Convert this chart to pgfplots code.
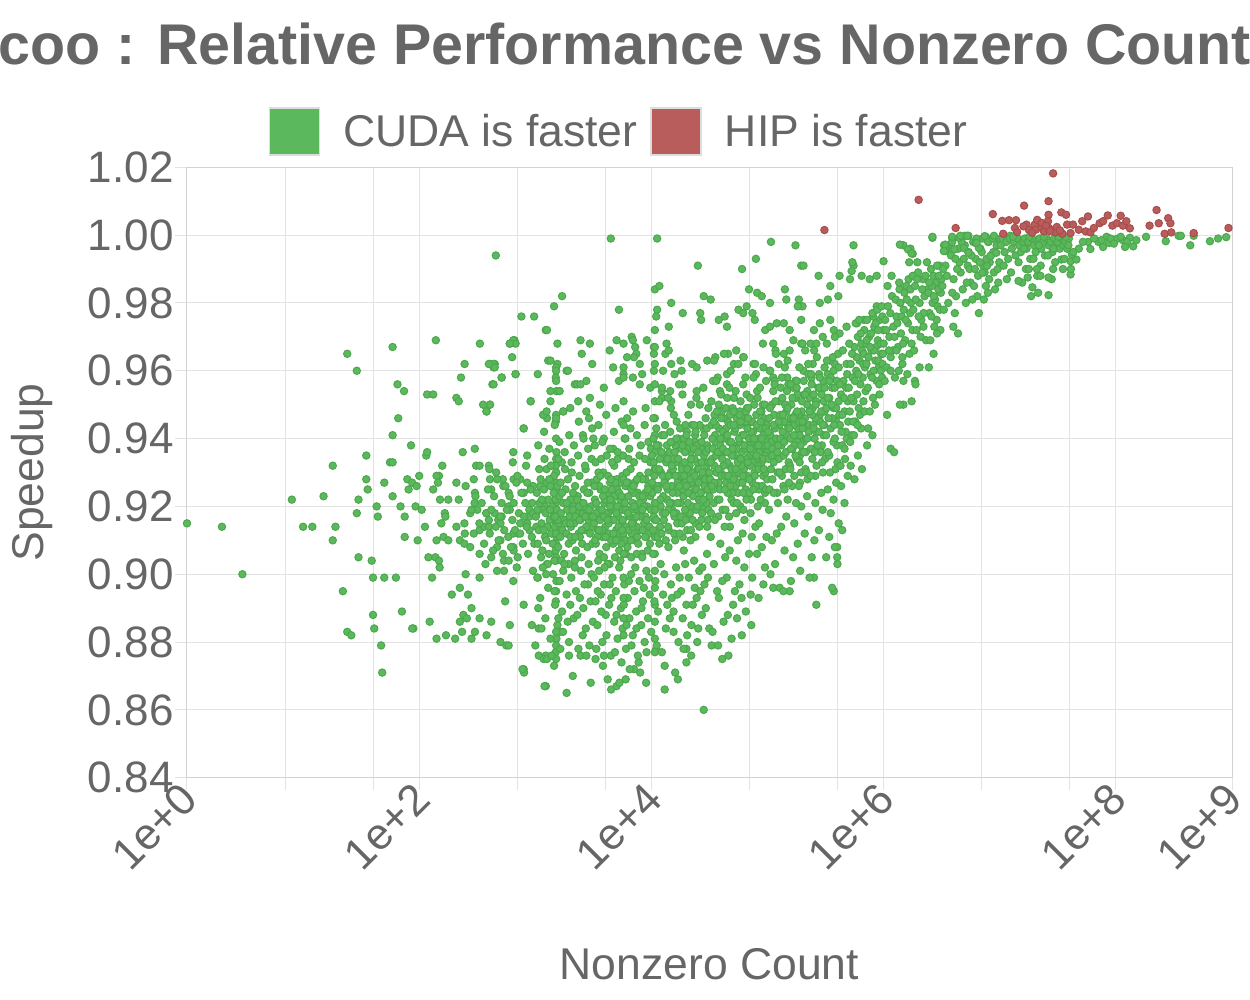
\documentclass[border=0pt]{standalone}
\usepackage{pgfplots}
\pgfplotsset{compat=1.18}
\usepackage{fontspec}
\setmainfont{Liberation Sans}
\definecolor{txt}{HTML}{666666}
\definecolor{cudagreen}{HTML}{5CB85C}
\definecolor{cudaedge}{HTML}{4CA84C}
\definecolor{hipred}{HTML}{B85C5C}
\definecolor{hipedge}{HTML}{A84C4C}
\definecolor{gridc}{HTML}{E3E3E3}
\definecolor{axisc}{HTML}{D2D2D2}
\definecolor{legbord}{HTML}{DDDDDD}
\begin{document}
\begin{tikzpicture}
\useasboundingbox (-93.5pt,-111.15pt) rectangle (531.5pt,388.85pt);
\begin{axis}[
  at={(0pt,0pt)}, anchor=south west,
  scale only axis, width=522.5pt, height=305.2pt,
  xmode=log, xmin=1, xmax=1e9, ymin=0.84, ymax=1.02,
  clip=false,
  xtick={1,100,10000,1000000,100000000,1000000000},
  xticklabels={1e+0,1e+2,1e+4,1e+6,1e+8,1e+9},
  minor xtick={7,40,700,4000,70000,400000,7000000,40000000},
  ytick={0.84,0.86,0.88,0.90,0.92,0.94,0.96,0.98,1.00,1.02},
  yticklabels={0.84,0.86,0.88,0.90,0.92,0.94,0.96,0.98,1.00,1.02},
  grid=both,
  major grid style={draw=gridc, line width=0.5pt},
  minor grid style={draw=gridc, line width=0.5pt},
  axis line style={draw=axisc, line width=0.5pt},
  xtick pos=left, ytick pos=left,
  tick align=outside,
  major tick length=6pt, minor tick length=6pt,
  every tick/.style={draw=gridc, line width=0.5pt},
  minor tick style={draw=gridc, line width=0.5pt},
  tick label style={font=\fontsize{22}{26}\selectfont, text=txt},
  yticklabel style={anchor=east, inner sep=0pt, xshift=-0.5pt},
  xticklabel style={rotate=45, anchor=east, inner sep=0pt, xshift=0.5pt, yshift=-1.5pt},
  xlabel={Nonzero Count},
  ylabel={Speedup},
  xlabel style={at={(axis description cs:0.5,-0.3314)}, anchor=base, inner sep=0pt, font=\fontsize{22.25}{26}\selectfont, text=txt},
  ylabel style={at={(axis description cs:-0.1371,0.5)}, anchor=base, inner sep=0pt, font=\fontsize{22.25}{26}\selectfont, text=txt},
  title={coo : Relative Performance vs Nonzero Count},
  title style={at={(axis description cs:0.4191,1.1651)}, anchor=base, yshift=-5pt, inner sep=0pt, font=\bfseries\fontsize{28.7}{34}\selectfont, text=txt},
  legend columns=2,
  legend cell align=left,
  legend style={at={(axis description cs:0.4124,1.0587)}, anchor=center, draw=none, fill=none,
    inner sep=0pt, outer sep=0pt, font=\fontsize{22.25}{26}\selectfont, text=txt,
    nodes={inner sep=0pt},
    /tikz/every odd column/.append style={column sep=11.5pt},
    /tikz/every even column/.append style={column sep=6.5pt}},
]
\addplot[only marks, mark=*, mark size=1.85pt, mark options={fill=cudagreen, draw=cudaedge, line width=0.5pt},
  legend image code/.code={\draw[fill=cudagreen, draw=legbord, line width=0.75pt] (0pt,-11.75pt) rectangle (25pt,11.75pt);}]
coordinates {
(1,0.915)(2,0.914)(3,0.900)(8,0.922)(10,0.914)(12,0.914)(15,0.923)(18,0.932)(18,0.910)(19,0.914)(22,0.895)(24,0.883)(26,0.882)(24,0.965)(29,0.960)
(30,0.905)(30,0.922)(29,0.918)(35,0.935)(35,0.928)(36,0.925)(39,0.904)(40,0.899)(50,0.899)(63,0.899)(40,0.888)(41,0.884)(47,0.879)(48,0.871)(43,0.920)(44,0.917)(50,0.927)(59,0.923)(69,0.920)(75,0.917)(75,0.911)(97,0.910)(112,0.914)(71,0.889)(89,0.884)(56,0.933)(59,0.933)(59,0.941)(66,0.946)(65,0.956)(74,0.954)(59,0.967)(139,0.969)(85,0.938)(79,0.928)(87,0.927)(95,0.926)(81,0.925)(100,0.929)(93,0.920)(105,0.919)(115,0.935)(117,0.936)(117,0.953)(132,0.953)
(209,0.952)(219,0.951)(229,0.958)(246,0.962)(333,0.968)(380,0.948)(407,0.950)(427,0.956)(407,0.962)(447,0.962)(437,0.961)(513,0.958)(603,0.968)(661,0.969)(631,0.964)(676,0.959)(912,0.951)(1050,0.959)(794,0.943)(1230,0.972)(1550,0.968)(1290,0.963)(1550,0.962)
(237,0.936)(301,0.937)(646,0.936)(640,0.933)(851,0.935)(832,0.932)(309,0.932)(331,0.932)(398,0.932)(402,0.931)(158,0.932)(148,0.929)(141,0.929)
(209,0.927)(251,0.926)(295,0.928)(302,0.924)(305,0.923)(300,0.921)(316,0.919)(407,0.928)(417,0.925)(525,0.928)(589,0.924)(530,0.926)
(650,0.928)(741,0.928)(794,0.924)(955,0.926)(1100,0.926)(1260,0.927)(1380,0.932)(1510,0.930)(132,0.925)(145,0.927)(151,0.922)
(178,0.922)(219,0.922)(166,0.918)(168,0.917)(155,0.915)(141,0.910)(162,0.911)(178,0.910)
(209,0.914)(245,0.915)(247,0.912)(295,0.912)(331,0.913)(363,0.914)(398,0.914)
(275,0.918)(282,0.919)(380,0.918)(447,0.918)(513,0.917)(589,0.920)(603,0.919)
(398,0.916)(479,0.916)(501,0.915)(741,0.915)(851,0.915)(891,0.917)(1020,0.918)(1200,0.920)
(646,0.912)(708,0.912)(891,0.913)(1020,0.914)(1260,0.914)
(224,0.910)(245,0.909)(275,0.908)(331,0.906)(417,0.905)(468,0.908)(501,0.910)
(646,0.908)(650,0.907)(692,0.902)(537,0.904)(468,0.901)(537,0.901)
(120,0.905)(138,0.905)(148,0.904)(150,0.902)(129,0.899)(251,0.900)(331,0.899)
(224,0.896)(191,0.894)(263,0.894)(282,0.890)(550,0.892)(603,0.885)(794,0.891)(646,0.898)
(955,0.901)(1050,0.899)(1260,0.903)(1510,0.905)(1740,0.901)
(240,0.888)(257,0.887)(224,0.886)(331,0.887)(417,0.886)(123,0.886)(87,0.884)
(141,0.881)(170,0.882)(204,0.881)(234,0.883)(282,0.881)(302,0.883)(380,0.882)(501,0.880)(562,0.879)(589,0.879)
(794,0.872)(800,0.871)(1000,0.879)(933,0.885)(1070,0.884)(1070,0.876)(1230,0.876)(1230,0.867)(1860,0.865)(1950,0.876)(1580,0.887)(1620,0.883)
(1510,0.961)(1500,0.958)(1520,0.954)(1510,0.947)(1500,0.945)(1510,0.940)(1520,0.936)(1510,0.934)(1500,0.932)(1510,0.930)(1520,0.927)(1510,0.925)(1500,0.923)(1510,0.921)(1520,0.919)(1510,0.917)(1500,0.915)(1510,0.913)(1520,0.911)(1510,0.909)(1500,0.907)(1510,0.904)(1520,0.898)(1510,0.895)(1500,0.892)(1510,0.883)(1520,0.881)(1510,0.879)(1500,0.877)(1510,0.875)
(1860,0.960)(2190,0.956)(2340,0.951)(1740,0.948)(1350,0.951)(1200,0.947)
(457,0.994)(4470,0.999)(11200,0.999)(1700,0.982)(1450,0.979)(759,0.976)(977,0.976)(1260,0.972)(5250,0.978)(10700,0.984)(11700,0.985)(14800,0.980)(18600,0.977)(11200,0.978)(11000,0.976)(14100,0.973)(25100,0.991)(28200,0.982)(32400,0.981)(26300,0.977)(26800,0.975)(38000,0.975)(42700,0.976)(44700,0.973)(60300,0.990)(79400,0.993)(1.07e5,0.998)(1.74e5,0.997)(1.95e5,0.991)(2.04e5,0.991)(2.75e5,0.988)(3.47e5,0.985)(4.17e5,0.988)(5.13e5,0.987)(5.5e5,0.997)(5.5e5,0.991)(6.46e5,0.988)(7.59e5,0.987)(8.71e5,0.988)
(6.92e4,0.984)(8.13e4,0.983)(8.91e4,0.982)(1.05e5,0.980)(1.41e5,0.984)(1.45e5,0.981)(1.86e5,0.981)(2.0e5,0.979)(2.82e5,0.980)(3.31e5,0.981)(4.07e5,0.982)
(5.62e4,0.978)(6.61e4,0.979)(6.17e4,0.977)(7.41e4,0.977)(7.76e4,0.975)
(9.55e4,0.972)(1.05e5,0.973)(1.2e5,0.974)(1.38e5,0.974)(1.55e5,0.972)(1.95e5,0.975)(1.82e5,0.979)
(2.51e5,0.972)(2.82e5,0.974)(3.47e5,0.975)(3.72e5,0.972)(4.17e5,0.971)(4.79e5,0.973)(5.89e5,0.974)(6.76e5,0.975)(8.13e5,0.976)(8.71e5,0.979)
(9.12e4,0.968)(1.17e5,0.966)(1.38e5,0.965)(1.55e5,0.966)(1.95e5,0.968)(2.34e5,0.968)(2.63e5,0.968)(3.24e5,0.968)(3.8e5,0.970)
(17800,0.963)(18200,0.960)(22400,0.962)(24500,0.961)(30200,0.963)(35500,0.964)(37200,0.958)(44700,0.959)(51300,0.962)(45700,0.965)(53700,0.966)(61700,0.964)(75900,0.962)(79400,0.959)(1.05e5,0.960)(1.12e5,0.958)(1.48e5,0.958)(1.74e5,0.957)(2.04e5,0.960)(2.24e5,0.959)
(6760,0.970)(6920,0.969)(5010,0.969)(5750,0.968)(7240,0.967)(9120,0.969)(10500,0.967)(13500,0.968)(10500,0.965)(7410,0.965)(13200,0.965)(14100,0.966)
(4370,0.966)(6170,0.964)(7080,0.964)(4680,0.961)(5750,0.961)(7940,0.962)(10500,0.960)(8320,0.959)(12600,0.960)(14800,0.962)(15800,0.959)
(2450,0.969)(2950,0.968)(2510,0.965)(3090,0.962)(2290,0.956)(2450,0.956)(2750,0.957)
(1350,0.963)(1510,0.960)(1510,0.957)(1910,0.960)(1350,0.954)(1620,0.954)(1740,0.948)(1260,0.946)(1170,0.947)(1510,0.946)
(646,0.969)(676,0.968)(603,0.968)(437,0.962)(447,0.961)(398,0.962)(513,0.958)(676,0.959)(437,0.956)(380,0.948)(407,0.950)(355,0.950)
(912,0.951)(1170,0.947)(794,0.943)
(2950,0.952)(3890,0.955)(5250,0.957)(5750,0.959)(6920,0.958)(7940,0.956)(9770,0.955)(12300,0.954)(12300,0.952)(14500,0.954)(14800,0.951)
(18600,0.956)(24500,0.954)(33900,0.957)(38900,0.954)(44700,0.956)(51300,0.952)(61700,0.956)(66100,0.953)(81300,0.954)
(2570,0.941)(3160,0.940)(2750,0.948)(3890,0.940)(4680,0.937)(6170,0.946)(5890,0.940)
(1200,0.867)(776,0.872)(5010,0.867)(28200,0.860)(40700,0.875)(20000,0.878)(72400,0.885)(2.63e5,0.891)(3.72e5,0.895)(1.55e5,0.895)(1.12e5,0.896)(2.51e5,0.899)(3.98e5,0.908)(3.98e5,0.905)
(1180,0.875)(1260,0.875)(2450,0.876)(2750,0.876)(3300,0.875)(3900,0.876)(7080,0.872)(7760,0.874)(11000,0.878)(15500,0.883)(1450,0.873)(2100,0.870)(3000,0.868)(4500,0.866)(6000,0.869)(9000,0.868)(13000,0.866)(16000,0.871)(20000,0.874)(33000,0.879)(46000,0.876)(60000,0.882)
(330,0.915)(345,0.921)(362,0.909)(378,0.918)(391,0.925)(405,0.912)(418,0.919)(433,0.907)(441,0.923)(456,0.914)(470,0.928)(482,0.910)(497,0.917)(512,0.921)(526,0.906)(540,0.913)(553,0.926)(568,0.919)(585,0.911)(601,0.923)(617,0.908)(634,0.916)(650,0.921)(668,0.913)(686,0.927)(705,0.905)(722,0.918)(740,0.912)(760,0.924)(781,0.909)(800,0.917)(821,0.921)(843,0.914)(866,0.906)(888,0.919)(910,0.925)(933,0.911)(957,0.918)(980,0.909)(372,0.903)(460,0.930)(590,0.904)(700,0.929)(850,0.927)(940,0.921)
(1010,0.917)(1030,0.924)(1050,0.909)(1070,0.913)(1090,0.921)(1110,0.928)(1130,0.915)(1150,0.907)(1170,0.919)(1190,0.925)
(1210,0.911)(1230,0.918)(1250,0.931)(1270,0.914)(1290,0.922)(1310,0.906)(1330,0.916)(1350,0.926)(1370,0.912)(1390,0.920)
(1410,0.909)(1430,0.917)(1450,0.929)(1470,0.914)(1490,0.922)(1510,0.912)(1530,0.919)(1550,0.926)(1570,0.908)(1590,0.915)
(1610,0.923)(1640,0.911)(1660,0.918)(1690,0.933)(1710,0.913)(1740,0.921)(1770,0.906)(1790,0.916)(1820,0.925)(1850,0.912)
(1880,0.919)(1910,0.928)(1940,0.909)(1970,0.917)(2000,0.922)(2030,0.914)(2060,0.930)(2090,0.910)(2130,0.920)(2160,0.915)
(2200,0.926)(2240,0.907)(2280,0.918)(2320,0.923)(2360,0.912)(2400,0.929)(2440,0.916)(2480,0.921)(2530,0.909)(2570,0.918)
(2620,0.925)(2660,0.913)(2710,0.931)(2760,0.919)(2810,0.908)(2860,0.916)(2910,0.924)(2960,0.912)(3010,0.920)(3070,0.927)
(3120,0.914)(1080,0.931)(1120,0.905)(1200,0.934)(1280,0.903)(1360,0.932)(1460,0.904)(1580,0.934)(1680,0.904)(1800,0.931)
(1930,0.903)(2050,0.933)(2190,0.904)(2340,0.935)(2500,0.905)(2680,0.932)(2880,0.903)(3050,0.934)(1040,0.919)(1140,0.922)
(1240,0.910)(1340,0.919)(1440,0.924)(1560,0.916)(1700,0.924)(1860,0.921)(2020,0.911)(2220,0.917)(2420,0.911)(2640,0.920)
(2830,0.927)(3100,0.909)(1180,0.913)(1320,0.928)(1480,0.917)(1650,0.927)(1830,0.915)(2110,0.924)(2380,0.920)(2740,0.914)(3000,0.917)
(1040,0.899)(1100,0.893)(1160,0.902)(1220,0.887)(1290,0.896)(1350,0.881)(1420,0.900)(1480,0.891)(1550,0.885)(1620,0.898)
(1700,0.889)(1780,0.903)(1860,0.894)(1950,0.880)(2040,0.899)(2140,0.887)(2240,0.895)(2350,0.878)(2470,0.901)(2590,0.890)
(2720,0.884)(2850,0.897)(2990,0.892)(3130,0.886)(1130,0.884)(1380,0.876)(1640,0.878)(1900,0.886)(2190,0.902)(2420,0.893)
(2650,0.897)(2920,0.879)(1060,0.890)(1240,0.900)(1460,0.895)(1730,0.883)(2000,0.891)(2300,0.888)(2560,0.882)(3050,0.900)
(1060,0.938)(1190,0.942)(1320,0.937)(1470,0.944)(1610,0.939)(1790,0.936)(1960,0.941)(2150,0.938)(2370,0.945)(2600,0.940)(2850,0.937)(3080,0.943)(1250,0.948)(2000,0.949)(2900,0.946)
(3200,0.915)(3260,0.922)(3320,0.909)(3390,0.928)(3450,0.913)(3510,0.919)(3580,0.906)(3640,0.925)(3710,0.917)(3780,0.911)
(3850,0.930)(3920,0.921)(4000,0.914)(4080,0.908)(4160,0.924)(4240,0.918)(4320,0.912)(4410,0.927)(4500,0.916)(4590,0.921)
(4680,0.909)(4780,0.932)(4870,0.919)(4970,0.913)(5070,0.925)(5170,0.917)(5280,0.907)(5390,0.922)(5500,0.915)(5610,0.929)
(5730,0.911)(5850,0.920)(5970,0.926)(6090,0.914)(6220,0.908)(6350,0.923)(6480,0.917)(6610,0.931)(6750,0.912)(6890,0.921)
(7030,0.916)(7180,0.927)(7330,0.910)(7480,0.919)(7640,0.924)(7800,0.913)(7960,0.929)(8130,0.918)(8300,0.906)(8470,0.922)
(8650,0.915)(8830,0.928)(9010,0.911)(9200,0.920)(9390,0.926)(9590,0.914)(9790,0.923)(3300,0.933)(3480,0.904)(3690,0.934)
(3900,0.905)(4120,0.935)(4350,0.903)(4590,0.933)(4850,0.905)(5120,0.934)(5400,0.904)(5700,0.935)(6020,0.906)(6350,0.934)
(6700,0.905)(7080,0.933)(7470,0.906)(7890,0.935)(8330,0.905)(8800,0.934)(9290,0.907)(9810,0.933)(3350,0.918)(3560,0.926)
(3770,0.913)(4000,0.922)(4230,0.929)(4480,0.910)(4740,0.916)(5020,0.928)(5310,0.912)(5620,0.919)(5950,0.910)(6300,0.927)
(6670,0.919)(7060,0.924)(7470,0.914)(7910,0.921)(8370,0.928)(8860,0.917)(9380,0.912)(9930,0.919)(3230,0.926)(3610,0.916)
(4060,0.918)(4540,0.925)(5080,0.920)(5680,0.916)(6350,0.913)(7100,0.920)(7940,0.917)(8880,0.924)(3420,0.911)(3830,0.923)
(4290,0.915)(4800,0.923)(5370,0.927)(6010,0.919)(6720,0.925)(7520,0.928)(8410,0.913)(9410,0.930)(3500,0.930)(4400,0.920)
(5500,0.909)(6900,0.914)(8600,0.920)(9700,0.909)(3900,0.917)(4900,0.927)(6100,0.930)(7700,0.909)(9100,0.916)(5200,0.914)
(3250,0.938)(3500,0.944)(3780,0.939)(4080,0.947)(4400,0.937)(4750,0.942)(5120,0.936)(5530,0.945)(5970,0.940)(6440,0.937)
(6950,0.948)(7500,0.941)(8100,0.938)(8740,0.944)(9430,0.939)(3600,0.950)(4900,0.949)(6600,0.943)(8900,0.949)(9900,0.937)
(3200,0.899)(3300,0.892)(3420,0.885)(3540,0.901)(3660,0.894)(3780,0.880)(3910,0.897)(4040,0.888)(4180,0.903)(4320,0.891)
(4470,0.876)(4620,0.899)(4780,0.886)(4940,0.895)(5110,0.881)(5280,0.902)(5460,0.890)(5650,0.884)(5840,0.897)(6040,0.878)
(6250,0.893)(6460,0.887)(6680,0.900)(6910,0.882)(7150,0.895)(7390,0.889)(7640,0.876)(7900,0.898)(8170,0.885)(8450,0.892)
(8740,0.880)(9040,0.901)(9350,0.887)(9670,0.894)(9950,0.883)(3350,0.878)(3700,0.889)(4100,0.882)(4520,0.893)(5000,0.888)
(5520,0.874)(6100,0.885)(6730,0.879)(7430,0.884)(8210,0.890)(9070,0.877)(3450,0.895)(3950,0.902)(4380,0.897)(5780,0.891)
(6400,0.898)(7260,0.902)(8600,0.896)(9500,0.899)(3820,0.873)(4850,0.877)(6500,0.872)(8000,0.871)(5300,0.868)(4200,0.869)
(5750,0.944)(5750,0.951)(5750,0.958)(5750,0.899)(5750,0.893)(5750,0.887)(5750,0.882)(5770,0.906)(5730,0.912)(5760,0.928)
(10700,0.972)(10700,0.967)(10700,0.962)(10700,0.956)(10700,0.951)(10700,0.946)(10700,0.941)(10700,0.936)(10700,0.931)(10700,0.926)(10700,0.921)(10700,0.916)(10700,0.911)(10700,0.906)(10700,0.901)(10700,0.896)(10700,0.891)(10700,0.886)(10700,0.881)(10700,0.877)
(10200,0.924)(10500,0.917)(10900,0.931)(11200,0.913)(11600,0.926)(12000,0.920)(12400,0.935)(12800,0.916)(13200,0.928)(13700,0.922)
(14100,0.913)(14600,0.930)(15100,0.919)(15600,0.925)(16100,0.938)(16700,0.915)(17200,0.927)(17800,0.921)(18400,0.932)(19000,0.917)
(19700,0.924)(20300,0.913)(21000,0.929)(21700,0.936)(22400,0.920)(23200,0.926)(24000,0.915)(24800,0.933)(25600,0.922)(26500,0.928)
(27400,0.918)(28300,0.935)(29200,0.925)(30200,0.914)(31200,0.930)(10400,0.940)(11300,0.911)(12300,0.941)(13300,0.910)(14500,0.942)
(15700,0.912)(17100,0.940)(18600,0.911)(20200,0.942)(21900,0.913)(23800,0.941)(25900,0.914)(28100,0.943)(30500,0.916)(10800,0.921)
(11800,0.934)(12900,0.927)(14000,0.919)(15300,0.931)(16600,0.924)(18100,0.937)(19700,0.928)(21500,0.918)(23400,0.934)(25500,0.927)
(27800,0.920)(30300,0.938)(11000,0.916)(12600,0.923)(14300,0.936)(16400,0.918)(18700,0.925)(21300,0.932)(24300,0.919)(27700,0.929)
(31600,0.923)(10600,0.929)(11900,0.914)(13400,0.933)(15000,0.921)(16900,0.929)(19000,0.940)(21300,0.924)(23900,0.911)(26800,0.937)
(30100,0.927)(12100,0.930)(13800,0.925)(15800,0.917)(18000,0.929)(20600,0.921)(23500,0.939)(26900,0.916)(11500,0.938)(13900,0.914)
(16300,0.933)(19500,0.919)(22800,0.930)(26200,0.921)(29700,0.932)(10300,0.913)(12500,0.918)(15200,0.939)(18300,0.915)(22100,0.927)
(26700,0.924)(31000,0.919)(11100,0.926)(13600,0.938)(16800,0.927)(20800,0.937)(25100,0.931)(29900,0.921)(12200,0.912)(17500,0.912)
(24600,0.938)(14800,0.926)(22600,0.916)(28700,0.926)(19300,0.933)(15500,0.934)(27100,0.933)(10100,0.935)(20000,0.926)(30800,0.933)
(10150,0.927)(10450,0.933)(10750,0.919)(11050,0.938)(11350,0.925)(11650,0.931)(11950,0.922)(12250,0.936)(12550,0.929)(12850,0.941)
(13150,0.918)(13450,0.926)(13750,0.934)(14050,0.929)(14350,0.921)(14650,0.939)(14950,0.932)(15250,0.924)(15550,0.918)(15850,0.936)
(16150,0.929)(16450,0.940)(16750,0.921)(17050,0.934)(17350,0.926)(17650,0.943)(17950,0.917)(18250,0.931)(18550,0.938)(18850,0.923)
(19150,0.929)(19450,0.936)(19750,0.916)(20050,0.941)(20400,0.931)(20800,0.924)(21200,0.939)(21600,0.928)(22000,0.934)(22400,0.944)
(22800,0.923)(23200,0.937)(23600,0.929)(24000,0.942)(24400,0.925)(24800,0.920)(25200,0.936)(25600,0.931)(26000,0.944)(26500,0.924)
(27000,0.939)(27500,0.930)(28000,0.922)(28500,0.941)(29000,0.928)(29500,0.936)(30000,0.943)(30500,0.925)(31000,0.937)(31500,0.930)
(10400,0.946)(11700,0.951)(13100,0.944)(14700,0.949)(16500,0.945)(18500,0.953)(20800,0.947)(23300,0.944)(26100,0.950)(29300,0.946)
(12300,0.955)(17300,0.956)(24400,0.952)(11000,0.943)(15600,0.947)(21900,0.950)(28000,0.955)(13900,0.952)(19600,0.944)(30900,0.949)
(10300,0.906)(10800,0.898)(11400,0.889)(12000,0.903)(12600,0.894)(13300,0.884)(14000,0.908)(14700,0.897)(15500,0.889)(16300,0.902)
(17100,0.880)(18000,0.895)(19000,0.907)(20000,0.891)(21000,0.899)(22100,0.885)(23300,0.904)(24500,0.893)(25800,0.901)(27200,0.888)
(28600,0.897)(30100,0.906)(31500,0.884)(11100,0.879)(12900,0.900)(15000,0.893)(17500,0.899)(20300,0.882)(23600,0.896)(27400,0.902)
(10600,0.892)(12300,0.877)(14400,0.887)(16700,0.894)(19500,0.903)(22700,0.891)(26400,0.895)(30700,0.899)(11700,0.909)(13700,0.891)
(16000,0.910)(18600,0.887)(21700,0.910)(25300,0.884)(29400,0.890)(13000,0.873)(18900,0.878)(24800,0.880)(16900,0.869)(22000,0.876)
(32000,0.928)(33200,0.934)(34400,0.921)(35600,0.939)(36900,0.926)(38200,0.943)(39600,0.930)(41000,0.919)(42500,0.936)(44000,0.927)
(45600,0.945)(47200,0.932)(48900,0.922)(50700,0.938)(52500,0.929)(54400,0.946)(56300,0.934)(58300,0.920)(60400,0.941)(62600,0.931)
(64800,0.925)(67100,0.944)(69500,0.935)(72000,0.922)(74600,0.939)(77200,0.930)(80000,0.947)(82800,0.926)(85800,0.937)(88900,0.933)
(92000,0.941)(95300,0.924)(98700,0.936)(32600,0.918)(35000,0.947)(37600,0.917)(40400,0.948)(43400,0.919)(46600,0.917)(50000,0.949)
(53700,0.918)(57700,0.948)(61900,0.919)(66500,0.949)(71400,0.918)(76700,0.950)(82400,0.920)(88500,0.948)(95000,0.921)(33800,0.937)
(36300,0.930)(39000,0.925)(41900,0.940)(45000,0.933)(48300,0.928)(51900,0.942)(55700,0.924)(59900,0.936)(64300,0.929)(69100,0.940)
(74200,0.927)(79700,0.934)(85600,0.943)(91900,0.929)(98500,0.944)(34100,0.925)(38700,0.935)(43900,0.943)(49800,0.924)(56500,0.930)
(64100,0.937)(72700,0.945)(82500,0.932)(93600,0.938)(35300,0.941)(40000,0.929)(45300,0.924)(51300,0.935)(58100,0.944)(65800,0.922)
(74500,0.933)(84400,0.940)(95600,0.930)(33000,0.944)(37100,0.922)(41700,0.932)(46900,0.939)(52800,0.926)(59400,0.932)(66800,0.929)
(75100,0.942)(84400,0.925)(94900,0.935)(36000,0.935)(42000,0.946)(49000,0.931)(57000,0.927)(66000,0.934)(77000,0.937)(90000,0.926)
(39200,0.938)(47600,0.926)(57600,0.939)(69800,0.928)(84600,0.936)(34800,0.932)(43200,0.929)(53100,0.931)(65400,0.945)(80500,0.939)
(99000,0.928)(38000,0.927)(48000,0.944)(62000,0.924)(79000,0.926)(45900,0.936)(60100,0.946)(70900,0.932)(87300,0.922)(54200,0.937)
(67900,0.938)(41300,0.942)(51100,0.921)(73600,0.945)(93000,0.946)
(32300,0.933)(33500,0.940)(34700,0.927)(35900,0.944)(37200,0.936)(38500,0.922)(39900,0.946)(41300,0.937)(42800,0.925)(44300,0.941)
(45900,0.929)(47500,0.947)(49200,0.935)(51000,0.928)(52800,0.943)(54700,0.921)(56700,0.940)(58700,0.945)(60800,0.927)(63000,0.938)
(65200,0.948)(67500,0.933)(69900,0.924)(72400,0.942)(75000,0.936)(77700,0.929)(80500,0.944)(83400,0.931)(86400,0.948)(89500,0.940)
(92700,0.934)(96000,0.943)(99300,0.939)(33100,0.926)(36700,0.948)(40700,0.934)(45100,0.941)(50000,0.937)(55400,0.933)(61400,0.929)
(68100,0.946)(75500,0.925)(83700,0.938)(92800,0.931)(34400,0.945)(39300,0.940)(44900,0.936)(51300,0.944)(58600,0.934)(67000,0.943)
(76500,0.940)(87400,0.945)(97000,0.925)(37800,0.931)(48500,0.939)(62500,0.941)(80300,0.935)(57200,0.947)(71000,0.937)(91000,0.950)
(32800,0.951)(36100,0.957)(39800,0.953)(43800,0.949)(48200,0.960)(53100,0.954)(58500,0.951)(64400,0.958)(70900,0.952)(78100,0.962)
(86000,0.955)(94700,0.950)(34600,0.963)(42100,0.965)(51200,0.948)(62300,0.964)(75800,0.958)(92200,0.961)(38000,0.950)(47000,0.955)
(56000,0.962)(68000,0.949)(82000,0.952)(97000,0.957)(45000,0.952)
(32400,0.911)(34500,0.903)(36800,0.895)(39200,0.909)(41800,0.886)(44500,0.899)(47400,0.914)(50500,0.891)(53800,0.904)(57300,0.897)
(61000,0.912)(65000,0.889)(69300,0.906)(73800,0.899)(78600,0.914)(83700,0.893)(89200,0.908)(95000,0.902)(33600,0.883)(38100,0.893)
(43200,0.905)(49000,0.881)(55600,0.910)(63100,0.902)(71600,0.894)(81200,0.906)(92100,0.897)(35200,0.916)(40800,0.898)(47200,0.907)
(54600,0.887)(63200,0.916)(73100,0.911)(84600,0.915)(97900,0.911)(37500,0.879)(45500,0.888)(52300,0.895)(42700,0.914)(59700,0.893)
(2000,0.915)(2100,0.919)(2200,0.911)(2300,0.922)(2400,0.916)(2500,0.913)(2600,0.921)(2700,0.917)(2800,0.924)(2900,0.919)
(3150,0.917)(3340,0.921)(3530,0.913)(3740,0.919)(3960,0.925)(4190,0.916)(4440,0.922)(4700,0.912)(4980,0.918)(5270,0.924)
(5580,0.913)(5910,0.921)(6260,0.918)(6630,0.910)(7020,0.926)(7430,0.917)(7870,0.923)(8330,0.919)(8820,0.911)(9340,0.925)
(3270,0.910)(3630,0.929)(4030,0.911)(4470,0.928)(4960,0.910)(5510,0.923)(6110,0.927)(6790,0.915)(7540,0.911)(8370,0.923)
(1.02e5,0.934)(1.06e5,0.941)(1.10e5,0.928)(1.14e5,0.947)(1.18e5,0.936)(1.22e5,0.930)(1.27e5,0.944)(1.32e5,0.938)(1.37e5,0.926)(1.42e5,0.950)
(1.47e5,0.941)(1.52e5,0.933)(1.58e5,0.946)(1.64e5,0.937)(1.70e5,0.929)(1.76e5,0.952)(1.83e5,0.943)(1.90e5,0.935)(1.97e5,0.948)(2.04e5,0.939)
(2.12e5,0.931)(2.20e5,0.954)(2.28e5,0.944)(2.36e5,0.937)(2.45e5,0.949)(2.54e5,0.940)(2.64e5,0.932)(2.74e5,0.955)(2.84e5,0.945)(2.94e5,0.938)
(3.05e5,0.951)(1.04e5,0.925)(1.12e5,0.954)(1.21e5,0.924)(1.30e5,0.955)(1.40e5,0.925)(1.51e5,0.956)(1.63e5,0.926)(1.76e5,0.957)(1.90e5,0.927)
(2.05e5,0.957)(2.21e5,0.928)(2.39e5,0.958)(2.58e5,0.929)(2.78e5,0.959)(3.00e5,0.930)(1.08e5,0.939)(1.16e5,0.943)(1.25e5,0.934)(1.35e5,0.942)
(1.45e5,0.948)(1.56e5,0.932)(1.68e5,0.944)(1.81e5,0.939)(1.95e5,0.930)(2.10e5,0.946)(2.26e5,0.942)(2.43e5,0.934)(2.62e5,0.951)(2.82e5,0.947)
(3.04e5,0.941)(1.03e5,0.946)(1.19e5,0.940)(1.38e5,0.935)(1.60e5,0.950)(1.85e5,0.947)(2.14e5,0.936)(2.48e5,0.944)(2.87e5,0.936)(1.13e5,0.933)
(1.33e5,0.929)(1.57e5,0.940)(1.86e5,0.926)(2.19e5,0.950)(2.59e5,0.946)(3.06e5,0.944)(1.09e5,0.950)(1.29e5,0.947)(1.53e5,0.927)(1.81e5,0.953)
(2.15e5,0.940)(2.55e5,0.936)(3.02e5,0.957)(1.23e5,0.938)(1.49e5,0.944)(1.79e5,0.934)(2.16e5,0.930)(2.61e5,0.942)(3.13e5,0.934)(1.00e5,0.938)
(1.43e5,0.931)(1.73e5,0.947)(2.31e5,0.952)(2.69e5,0.938)(1.15e5,0.957)(1.66e5,0.955)(2.00e5,0.943)(2.35e5,0.929)(2.92e5,0.953)(1.26e5,0.951)
(1.99e5,0.936)(2.50e5,0.953)(1.39e5,0.945)(1.70e5,0.938)(2.77e5,0.942)(3.10e5,0.948)(2.08e5,0.953)(1.10e5,0.937)(1.89e5,0.941)(2.42e5,0.947)
(1.01e5,0.942)(1.05e5,0.949)(1.09e5,0.935)(1.13e5,0.944)(1.17e5,0.951)(1.21e5,0.936)(1.25e5,0.945)(1.29e5,0.940)(1.34e5,0.952)(1.39e5,0.939)
(1.44e5,0.936)(1.49e5,0.949)(1.54e5,0.943)(1.59e5,0.937)(1.64e5,0.952)(1.69e5,0.941)(1.74e5,0.935)(1.80e5,0.948)(1.86e5,0.945)(1.92e5,0.938)
(1.07e5,0.931)(1.15e5,0.956)(1.27e5,0.930)(1.36e5,0.947)(1.47e5,0.954)(1.57e5,0.931)(1.67e5,0.946)(1.78e5,0.955)(1.89e5,0.933)(1.98e5,0.951)
(2.0e5,0.945)(2.1e5,0.953)(2.2e5,0.940)(2.3e5,0.948)(2.4e5,0.956)(2.5e5,0.943)(2.6e5,0.950)(2.7e5,0.938)(2.8e5,0.955)(2.9e5,0.948)
(3.0e5,0.944)(3.1e5,0.955)(3.2e5,0.949)(3.3e5,0.959)(3.4e5,0.952)(3.5e5,0.943)(3.6e5,0.955)(3.7e5,0.949)(3.8e5,0.962)(3.9e5,0.945)
(2.05e5,0.936)(2.45e5,0.962)(2.95e5,0.933)(3.45e5,0.963)(3.95e5,0.938)
(1.05e5,0.960)(1.18e5,0.965)(1.33e5,0.958)(1.49e5,0.963)(1.67e5,0.969)(1.88e5,0.961)(2.11e5,0.966)(2.37e5,0.959)(2.66e5,0.964)(2.99e5,0.970)
(1.12e5,0.968)(1.41e5,0.961)(1.78e5,0.957)(2.24e5,0.962)(2.82e5,0.958)(1.25e5,0.962)(1.58e5,0.956)(2.00e5,0.968)(2.52e5,0.966)(3.10e5,0.961)
(1.03e5,0.919)(1.09e5,0.910)(1.16e5,0.903)(1.23e5,0.921)(1.31e5,0.914)(1.40e5,0.907)(1.49e5,0.922)(1.59e5,0.898)(1.70e5,0.915)(1.82e5,0.909)
(1.95e5,0.920)(2.09e5,0.912)(2.24e5,0.917)(2.40e5,0.905)(2.58e5,0.921)(2.77e5,0.913)(2.98e5,0.919)(1.13e5,0.924)(1.27e5,0.896)(1.45e5,0.917)
(1.66e5,0.905)(1.91e5,0.901)(2.19e5,0.923)(2.53e5,0.910)(2.90e5,0.924)(1.06e5,0.900)(1.20e5,0.912)(1.37e5,0.895)(1.76e5,0.921)(2.30e5,0.899)
(3.2e5,0.941)(3.3e5,0.952)(3.4e5,0.935)(3.5e5,0.958)(3.6e5,0.946)(3.7e5,0.939)(3.8e5,0.955)(3.9e5,0.949)(4.0e5,0.933)(4.1e5,0.961)
(4.2e5,0.944)(4.3e5,0.953)(4.4e5,0.938)(4.5e5,0.957)(4.6e5,0.948)(4.7e5,0.942)(4.8e5,0.962)(4.9e5,0.951)(3.25e5,0.963)(3.45e5,0.930)
(3.65e5,0.964)(3.85e5,0.931)(4.05e5,0.965)(4.25e5,0.932)(4.45e5,0.966)(4.65e5,0.934)(4.85e5,0.959)(3.35e5,0.946)(3.55e5,0.950)(3.75e5,0.944)
(3.95e5,0.957)(4.15e5,0.947)(4.35e5,0.942)(4.55e5,0.952)(4.75e5,0.955)(4.95e5,0.945)(3.4e5,0.957)(3.8e5,0.940)(4.2e5,0.956)(4.6e5,0.937)
(3.3e5,0.936)(3.7e5,0.960)(4.1e5,0.951)(4.4e5,0.947)(4.8e5,0.940)
(5.0e5,0.955)(5.1e5,0.948)(5.2e5,0.962)(5.3e5,0.941)(5.4e5,0.958)(5.5e5,0.951)(5.6e5,0.967)(5.7e5,0.945)(5.8e5,0.960)(5.9e5,0.953)
(6.0e5,0.970)(6.1e5,0.949)(6.2e5,0.963)(6.3e5,0.956)(6.4e5,0.943)(6.5e5,0.966)(6.6e5,0.958)(6.7e5,0.951)(6.8e5,0.972)(6.9e5,0.961)
(7.0e5,0.954)(5.05e5,0.968)(5.25e5,0.952)(5.45e5,0.945)(5.65e5,0.957)(5.85e5,0.964)(6.05e5,0.959)(6.25e5,0.947)(6.45e5,0.968)(6.65e5,0.962)
(6.85e5,0.948)(5.15e5,0.939)(5.55e5,0.941)(5.95e5,0.944)(6.35e5,0.971)(6.75e5,0.965)(5.35e5,0.965)(5.75e5,0.974)(6.15e5,0.975)(7.05e5,0.968)
(7.1e5,0.962)(7.3e5,0.955)(7.5e5,0.970)(7.7e5,0.959)(7.9e5,0.966)(8.1e5,0.952)(8.3e5,0.973)(8.5e5,0.963)(8.7e5,0.957)(8.9e5,0.969)
(9.1e5,0.961)(9.3e5,0.975)(9.5e5,0.965)(9.7e5,0.958)(9.9e5,0.972)(7.2e5,0.975)(7.6e5,0.948)(8.0e5,0.977)(8.4e5,0.950)(8.8e5,0.978)
(9.2e5,0.953)(9.6e5,0.979)(7.4e5,0.964)(7.8e5,0.971)(8.2e5,0.960)(8.6e5,0.967)(9.0e5,0.963)(9.4e5,0.968)(9.8e5,0.962)(7.35e5,0.943)
(7.95e5,0.958)(8.55e5,0.974)(9.15e5,0.956)(9.75e5,0.976)(7.15e5,0.969)(8.25e5,0.966)(9.45e5,0.960)(8.95e5,0.972)(7.65e5,0.967)(9.85e5,0.965)
(3.3e5,0.925)(3.5e5,0.918)(3.7e5,0.922)(3.9e5,0.927)(4.1e5,0.915)(4.3e5,0.926)(4.6e5,0.921)(4.9e5,0.929)(3.4e5,0.911)(3.6e5,0.896)
(3.8e5,0.908)(5.2e5,0.932)(5.6e5,0.928)(6.0e5,0.935)(6.5e5,0.931)(7.2e5,0.938)(8.0e5,0.941)(3.2e5,0.905)(4.0e5,0.903)(4.4e5,0.913)
(1.15e6,0.937)(1.23e6,0.936)
(1.00e6,0.968)(1.03e6,0.975)(1.06e6,0.961)(1.09e6,0.979)(1.12e6,0.970)(1.15e6,0.964)(1.18e6,0.982)(1.21e6,0.973)(1.25e6,0.958)(1.29e6,0.976)
(1.33e6,0.967)(1.37e6,0.984)(1.41e6,0.971)(1.45e6,0.962)(1.49e6,0.978)(1.53e6,0.969)(1.57e6,0.985)(1.62e6,0.974)(1.67e6,0.965)(1.72e6,0.980)
(1.77e6,0.972)(1.02e6,0.957)(1.08e6,0.985)(1.14e6,0.977)(1.20e6,0.966)(1.27e6,0.981)(1.35e6,0.960)(1.43e6,0.976)(1.51e6,0.983)(1.60e6,0.959)
(1.69e6,0.977)(1.05e6,0.972)(1.17e6,0.988)(1.31e6,0.974)(1.47e6,0.968)(1.64e6,0.987)(1.11e6,0.966)(1.39e6,0.980)(1.55e6,0.975)(1.74e6,0.968)
(1.24e6,0.970)(1.58e6,0.981)(1.36e6,0.986)(1.48e6,0.957)(1.70e6,0.984)
(1.80e6,0.978)(1.86e6,0.985)(1.92e6,0.972)(1.98e6,0.989)(2.04e6,0.980)(2.11e6,0.975)(2.18e6,0.987)(2.25e6,0.982)(2.32e6,0.969)(2.40e6,0.984)
(2.48e6,0.977)(2.56e6,0.990)(2.64e6,0.980)(2.73e6,0.973)(2.82e6,0.986)(2.91e6,0.979)(3.01e6,0.991)(3.11e6,0.983)(1.83e6,0.966)(1.95e6,0.992)
(2.08e6,0.970)(2.21e6,0.977)(2.36e6,0.992)(2.52e6,0.969)(2.68e6,0.988)(2.86e6,0.975)(3.05e6,0.978)(1.89e6,0.981)(2.15e6,0.984)(2.44e6,0.983)
(2.77e6,0.981)(3.14e6,0.987)(2.00e6,0.976)(2.29e6,0.988)(2.60e6,0.985)(2.96e6,0.984)(1.78e6,0.988)(2.58e6,0.976)(2.88e6,0.991)(3.08e6,0.972)
(2.20e6,0.973)(2.70e6,0.982)(1.94e6,0.987)(2.47e6,0.986)(2.99e6,0.988)
(1.29e6,0.966)(1.45e6,0.964)(1.15e6,0.960)(2.04e6,0.961)(2.45e6,0.961)(1.86e6,0.957)(1.88e6,0.956)(1.74e6,0.951)(1.48e6,0.950)(1.38e6,0.950)(1.07e6,0.947)(2.69e6,0.965)(2.88e6,0.971)(3.98e6,0.973)(4.37e6,0.971)(6.61e6,0.977)
(3.2e6,0.985)(3.4e6,0.991)(3.6e6,0.980)(3.8e6,0.994)(4.0e6,0.987)(4.2e6,0.982)(4.4e6,0.996)(4.6e6,0.989)(4.8e6,0.984)(5.0e6,0.997)
(5.3e6,0.991)(5.6e6,0.986)(5.9e6,0.998)(6.2e6,0.993)(6.5e6,0.988)(6.8e6,0.996)(7.2e6,0.991)(7.6e6,0.985)(8.0e6,0.998)(8.4e6,0.994)
(8.9e6,0.989)(9.4e6,0.997)(9.9e6,0.992)(3.3e6,0.978)(3.7e6,0.996)(4.1e6,0.977)(4.5e6,0.992)(5.1e6,0.980)(5.7e6,0.994)(6.4e6,0.982)
(7.1e6,0.999)(7.9e6,0.983)(8.8e6,0.995)(9.7e6,0.986)(3.5e6,0.988)(3.9e6,0.983)(4.3e6,0.990)(4.9e6,0.993)(5.5e6,0.990)(6.0e6,0.985)
(6.7e6,0.992)(7.4e6,0.989)(8.2e6,0.992)(9.1e6,0.984)(3.45e6,0.996)(4.7e6,0.998)(5.8e6,0.981)(7.0e6,0.995)(8.6e6,0.999)(3.9e6,0.999)
(5.4e6,0.995)(6.3e6,0.999)(7.7e6,0.993)(9.6e6,0.990)(4.15e6,0.993)(6.1e6,0.990)(8.1e6,0.987)(3.25e6,0.990)(5.2e6,0.986)(7.3e6,0.981)
(1.48e6,0.997)(1.70e6,0.996)(1.78e6,0.9945)(1.66e6,0.992)(2.63e6,0.9992)(3.31e6,0.997)(3.89e6,0.998)(4.47e6,0.9992)(5.01e6,0.9998)(5.37e6,0.9998)(3.39e6,0.9953)(4.07e6,0.9958)(4.9e6,0.9962)(5.37e6,0.9948)(6.17e6,0.9977)(6.61e6,0.9962)(7.59e6,0.9995)(7.94e6,0.998)(8.71e6,0.999)(1e7,0.9987)(1.23e7,0.9998)(1.35e7,0.9987)(8.32e6,0.9938)(7.76e6,0.9909)(7.08e6,0.9889)(9.33e6,0.9948)
(5.37e5,0.992)(5.3e5,0.9894)(9.98e5,0.9923)(1.38e6,0.9972)(1.62e6,0.9958)(1.74e6,0.9946)(2.63e6,0.9995)(3.39e6,0.9972)(3.3e6,0.9953)(3.89e6,0.9995)(4.57e6,0.9998)(5.25e6,0.9998)(6.31e6,0.9977)(7.41e6,0.9997)(8.91e6,0.9998)(1.01e7,0.9989)
(1.02e7,0.997)(1.06e7,0.999)(1.10e7,0.995)(1.14e7,0.998)(1.18e7,0.993)(1.22e7,0.999)(1.27e7,0.996)(1.32e7,0.998)(1.37e7,0.994)(1.42e7,0.999)
(1.47e7,0.997)(1.52e7,0.995)(1.58e7,0.998)(1.64e7,0.999)(1.70e7,0.996)(1.76e7,0.998)(1.83e7,0.993)(1.90e7,0.999)(1.97e7,0.997)(2.04e7,0.995)
(2.12e7,0.998)(2.20e7,0.999)(2.28e7,0.996)(2.36e7,0.998)(2.45e7,0.994)(2.54e7,0.999)(2.64e7,0.997)(2.74e7,0.998)(2.84e7,0.995)(2.94e7,0.999)
(3.05e7,0.997)(3.16e7,0.998)(3.28e7,0.996)(3.40e7,0.999)(3.53e7,0.997)(3.66e7,0.998)(3.80e7,0.996)(3.94e7,0.999)(1.08e7,0.991)(1.25e7,0.989)
(1.45e7,0.992)(1.68e7,0.990)(1.95e7,0.993)(2.25e7,0.991)(2.60e7,0.994)(3.00e7,0.992)(3.50e7,0.990)(1.15e7,0.987)(1.56e7,0.986)(2.10e7,0.988)
(2.80e7,0.987)(1.30e7,0.9995)(1.80e7,0.9995)(2.40e7,0.9995)(3.20e7,0.9995)(3.70e7,0.9995)(1.62e7,0.996)(2.17e7,0.997)(2.9e7,0.996)(3.9e7,0.997)
(1.74e7,0.9875)(2.24e7,0.988)(2.63e7,0.9875)(1.91e7,0.9846)(1.86e7,0.982)(2.14e7,0.983)(2.63e7,0.9823)(1.45e7,0.9865)(3.39e7,0.9928)(4.07e7,0.9923)(4.57e7,0.9928)(4.17e7,0.9943)(1.78e7,0.990)(2.09e7,0.990)(2.88e7,0.990)(4.07e7,0.9884)(4.1e7,0.990)
(5.75e7,0.998)(7.08e7,0.998)(8.32e7,0.9995)(1.02e8,0.9989)(1.15e8,0.9985)(1.32e8,0.9992)(1.41e8,0.9967)(6.03e7,0.9959)(7.76e7,0.9965)(8.71e7,0.9977)(1.82e8,0.9995)(2.69e8,0.9982)(3.47e8,0.9998)(3.63e8,0.9998)(4.37e8,0.997)(6.46e8,0.9982)(7.59e8,0.999)(8.91e8,0.9994)(4.68e8,0.9998)
(6.5e7,0.999)(7.5e7,0.9985)(9.0e7,0.999)(1.1e8,0.9995)(1.25e8,0.998)(1.5e8,0.9985)(9.6e7,0.9975)(1.2e8,0.9965)(3.6e7,0.993)(4.3e7,0.995)(4.8e7,0.996)(5.2e7,0.998)
};
\addlegendentry{CUDA is faster}
\addplot[only marks, mark=*, mark size=1.85pt, mark options={fill=hipred, draw=hipedge, line width=0.5pt},
  legend image code/.code={\draw[fill=hipred, draw=legbord, line width=0.75pt] (0pt,-11.75pt) rectangle (25pt,11.75pt);}]
coordinates {
(3.09e5,1.0015)(2.0e6,1.0104)(4.17e6,1.0021)(8.71e6,1.0062)
(1.05e7,1.0042)(1.20e7,1.0044)(1.38e7,1.0044)(1.07e7,1.0004)(1.35e7,1.0021)(1.41e7,1.0009)(1.62e7,1.0087)
(1.70e7,1.0031)(1.78e7,1.0016)(2.0e7,1.0031)(2.04e7,1.0016)(2.29e7,1.0021)(2.40e7,1.0011)
(2.63e7,1.006)(2.6e7,1.0041)(2.65e7,1.0021)(2.63e7,1.010)(2.88e7,1.0182)(2.82e7,1.0014)(3.02e7,1.0008)
(3.39e7,1.0067)(3.72e7,1.006)(3.47e7,1.0004)(3.80e7,1.0031)(4.07e7,1.0006)
(4.27e7,1.0031)(4.79e7,1.0016)(5.13e7,1.0041)(5.75e7,1.0055)(5.50e7,1.0011)(6.03e7,1.0008)(6.46e7,1.0021)
(7.24e7,1.0035)(7.76e7,1.0041)(8.51e7,1.0058)(9.33e7,1.0028)(1.02e8,1.0035)(1.10e8,1.0057)
(1.15e8,1.0028)(1.23e8,1.0041)(1.32e8,1.002)(1.95e8,1.0028)(2.24e8,1.0074)(2.34e8,1.0035)
(2.82e8,1.005)(2.95e8,1.0035)(2.63e8,1.0004)(3.0e8,1.0008)(4.68e8,1.0006)(9.33e8,1.0021)
(2.1e7,1.0045)(2.3e7,1.0036)(2.5e7,1.0028)(2.7e7,1.0012)(3.1e7,1.0024)(3.3e7,1.0014)(1.9e7,1.0007)(1.6e7,1.0026)
};
\addlegendentry{HIP is faster}
\end{axis}
\end{tikzpicture}
\end{document}
